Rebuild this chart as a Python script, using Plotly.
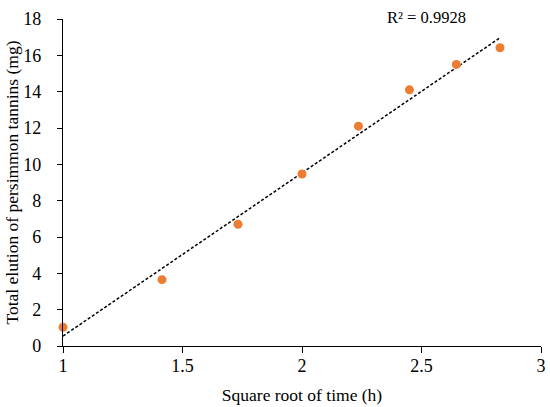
import numpy as np
import plotly.graph_objects as go

# Data
x_vals = [1.0, 1.4142, 1.7321, 2.0, 2.2361, 2.4495, 2.6458, 2.8284]
y_vals = [1.03, 3.65, 6.7, 9.47, 12.1, 14.1, 15.5, 16.42]
x_ticks = [1, 1.5, 2, 2.5, 3]
y_ticks = [0, 2, 4, 6, 8, 10, 12, 14, 16, 18]
r2_label = "R² = 0.9928"

slope, intercept = np.polyfit(x_vals, y_vals, 1)
fit_x = [min(x_vals), max(x_vals)]
fit_y = [slope * v + intercept for v in fit_x]

FONT = "Liberation Serif, Times New Roman, serif"

fig = go.Figure()
fig.add_trace(go.Scatter(
    x=fit_x, y=fit_y, mode="lines",
    line=dict(color="black", width=1.5, dash="3px,2px"),
    showlegend=False, hoverinfo="skip", cliponaxis=False))
fig.add_trace(go.Scatter(
    x=x_vals, y=y_vals, mode="markers",
    marker=dict(color="#ED7D31", size=9),
    showlegend=False, cliponaxis=False))

fig.add_annotation(
    x=2.52, y=1.0, xref="x", yref="paper", yanchor="bottom",
    text=r2_label, showarrow=False,
    font=dict(family=FONT, size=16.5, color="black"), yshift=-10)

fig.update_layout(
    width=550, height=407,
    margin=dict(l=63, r=9, t=19, b=61, autoexpand=False),
    paper_bgcolor="white", plot_bgcolor="white",
    font=dict(family=FONT, size=18, color="black"),
)
fig.update_xaxes(
    range=[1, 3], tickvals=x_ticks, ticktext=[str(t) for t in x_ticks],
    showline=True, linecolor="black", linewidth=1.3,
    ticks="outside", ticklen=6, tickwidth=1.3, tickcolor="black",
    showgrid=False, zeroline=False, automargin=False,
    ticklabelstandoff=-3,
    title=dict(text="Square root of time (h)", standoff=13,
               font=dict(family=FONT, size=17.5)))
fig.update_yaxes(
    range=[0, 18], tickvals=y_ticks,
    showline=True, linecolor="black", linewidth=1.3,
    ticks="outside", ticklen=5, tickwidth=1.3, tickcolor="black",
    showgrid=False, zeroline=False, automargin=False,
    ticklabelstandoff=12,
    title=dict(text="Total elution of persimmon tannins (mg)", standoff=0,
               font=dict(family=FONT, size=17.5)))

fig.write_html("out.html", config={"displayModeBar": False},
               post_script="document.body.style.margin='0';")
